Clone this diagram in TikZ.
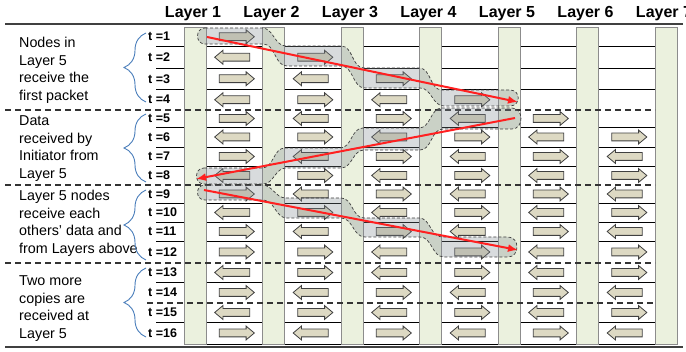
\documentclass[tikz,border=0pt]{standalone}
\usepackage{fontspec}
\setmainfont{Liberation Sans}
\usetikzlibrary{shapes.arrows,decorations.pathreplacing,arrows.meta}

\definecolor{barfill}{HTML}{EBF1DE}
\definecolor{barline}{HTML}{8C8C8C}
\definecolor{arrowfill}{HTML}{DDD9C3}
\definecolor{arrowline}{HTML}{404040}
\definecolor{bandfill}{HTML}{808890}
\definecolor{bracecol}{HTML}{4A7EBB}
\definecolor{flowred}{HTML}{FF2020}

\begin{document}
\begin{tikzpicture}[x=1pt,y=-1pt,
  layerbar/.style={draw=barline,fill=barfill,line width=0.9pt,minimum width=22pt,minimum height=317pt,inner sep=0pt},
  layerlabel/.style={font=\fontsize{16}{18}\selectfont\bfseries,anchor=base},
  steplabel/.style={font=\fontsize{12.5}{14}\selectfont\bfseries,anchor=west,inner sep=0pt},
  sectiontext/.style={font=\fontsize{14.3}{17.5}\selectfont,align=left,anchor=west,inner sep=0pt},
  cellarrow/.style={single arrow,draw=arrowline,fill=arrowfill,line width=0.8pt,minimum height=35pt,minimum width=0pt,single arrow head extend=3pt,single arrow tip angle=80,inner xsep=0pt,inner ysep=3.5pt},
  rowline/.style={line width=0.7pt},
  sectionline/.style={line width=1.2pt,draw=black!80,dash pattern=on 6pt off 4pt},
  frameline/.style={line width=1.5pt,draw=black!75},
  sectionbrace/.style={draw=bracecol,line width=0.9pt,decorate,decoration={brace,amplitude=22pt}},
  flowband/.style={fill=bandfill,fill opacity=0.3,draw=black!75,line width=0.7pt,dash pattern=on 3pt off 2pt},
  flowline/.style={draw=flowred,line width=2pt,-{Latex[length=10pt,width=8pt]}}
]
\useasboundingbox (0,0) rectangle (686,352);
\fill[white] (0,0) rectangle (686,352);

% Frame lines top and bottom
\draw[frameline] (5,24) -- (683,24);
\draw[frameline] (5,347) -- (683,347);

% Row separators
\foreach \y in {46.5,68,89.5,127,147,166,203,222,241,282,322}
  \draw[rowline] (156,\y) -- (655,\y);
\draw[rowline] (184,344) -- (655,344);

% Layer columns
\foreach \k in {1,...,7} {
  \node[layerbar] (bar\k) at ({195+78.5*(\k-1)},185.5) {};
  \node[layerlabel] (lab\k) at ({193+78.5*(\k-1)},18) {Layer \k};
}

% Phase separators
\foreach \y in {110,185,263}
  \draw[sectionline] (5,\y) -- (655,\y);
\draw[sectionline] (147,303) -- (655,303);

% Time slots: 1 = right, -1 = left, 0 = nothing sent
\foreach \t/\yc/\dirs in {
  1/36.75/{1,0,0,0,0,0},   2/57.25/{-1,1,0,0,0,0},
  3/78.75/{1,-1,1,0,0,0},  4/99.75/{-1,1,-1,1,0,0},
  5/118.5/{1,-1,1,-1,1,0}, 6/137/{-1,1,-1,1,-1,1},
  7/156.5/{1,-1,1,-1,1,-1},8/175.5/{-1,1,-1,1,-1,1},
  9/194/{1,-1,1,-1,1,-1},  10/212.5/{-1,1,-1,1,-1,1},
  11/231.5/{1,-1,1,-1,1,-1},12/252/{1,1,-1,1,-1,1},
  13/272.5/{-1,1,-1,1,-1,1},14/292.5/{1,-1,1,-1,1,-1},
  15/312.5/{-1,1,-1,1,-1,1},16/333/{1,-1,1,-1,1,-1}} {
  \node[steplabel] (t\t) at (148,\yc) {t =\t};
  \foreach \d [count=\c] in \dirs {
    \ifnum\d=0\relax\else
      \pgfmathtruncatemacro\rot{90-90*\d}
      \node[cellarrow,shape border rotate=\rot] (a-\t-\c) at ({234.5+78.5*(\c-1)},\yc) {};
    \fi
  }
}

% Phase descriptions
\node[sectiontext] (txt1) at (19,70.2) {Nodes in\\Layer 5\\receive the\\first packet};
\node[sectiontext] (txt2) at (19,148.5) {Data\\received by\\Initiator from\\Layer 5};
\node[sectiontext] (txt3) at (19,223.2) {Layer 5 nodes\\receive each\\others’ data and\\from Layers above};
\node[sectiontext] (txt4) at (19,308.5) {Two more\\copies are\\received at\\Layer 5};

\draw[sectionbrace] (146,102) -- (146,33);
\draw[sectionbrace] (146,182) -- (146,114);
\draw[sectionbrace] (146,260) -- (146,190);
\draw[sectionbrace] (146,337) -- (146,268);

% Packet paths
\draw[flowband] (205,28) -- (262,28) to[out=0,in=180] (286,46) -- (341,46)
  to[out=0,in=180] (364,68) -- (419,68) to[out=0,in=180] (442,90) -- (510,90)
  .. controls (521,90) and (521,106) .. (510,106) -- (444,106)
  to[out=180,in=0] (420,88) -- (365,88) to[out=180,in=0] (341,66) -- (287,66)
  to[out=180,in=0] (263,44) -- (205,44) .. controls (195,44) and (195,28) .. (205,28) -- cycle;
\draw[flowband] (204,168) -- (262,168) to[out=0,in=180] (285,148) -- (340,148)
  to[out=0,in=180] (363,128) -- (419,128) to[out=0,in=180] (442,108) -- (512,108)
  .. controls (524,108) and (524,129) .. (512,129) -- (443,129)
  to[out=180,in=0] (420,150) -- (364,150) to[out=180,in=0] (341,168) -- (286,168)
  to[out=180,in=0] (263,184) -- (204,184) .. controls (194,184) and (194,168) .. (204,168) -- cycle;
\draw[flowband] (205,185) -- (262,185) to[out=0,in=180] (286,198) -- (341,198)
  to[out=0,in=180] (364,218) -- (419,218) to[out=0,in=180] (442,237) -- (508,237)
  .. controls (520,237) and (520,257) .. (508,257) -- (444,257)
  to[out=180,in=0] (420,237) -- (365,237) to[out=180,in=0] (341,218) -- (287,218)
  to[out=180,in=0] (263,200) -- (205,200) .. controls (195,200) and (195,185) .. (205,185) -- cycle;

\coordinate (first-s) at (207,37);
\coordinate (first-e) at (518,102);
\coordinate (back-s) at (515,118);
\coordinate (back-e) at (196,179);
\coordinate (share-s) at (204,190);
\coordinate (share-e) at (518,250);
\draw[flowline] (first-s) -- (first-e);
\draw[flowline] (back-s) -- (back-e);
\draw[flowline] (share-s) -- (share-e);
\end{tikzpicture}
\end{document}
